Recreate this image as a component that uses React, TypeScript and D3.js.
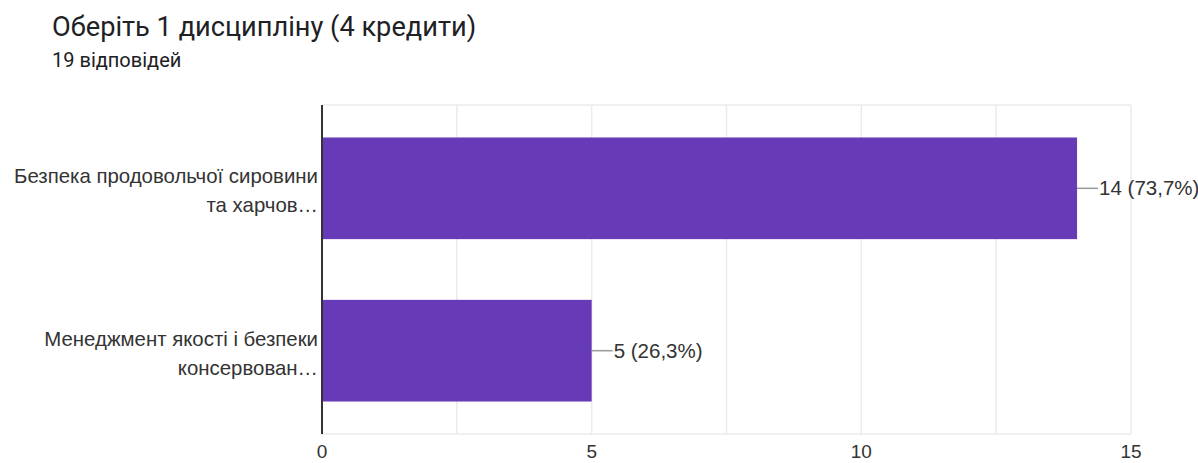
import React from "react";
import * as d3 from "d3";

const categories = [
  ["Безпека продовольчої сировини", "та харчов…"],
  ["Менеджмент якості і безпеки", "консервован…"],
];
const counts = [14, 5];
const percents = ["73,7%", "26,3%"];
const xTicks = [0, 5, 10, 15];
const gridTicks = [2.5, 5, 7.5, 10, 12.5, 15];
const title = "Оберіть 1 дисципліну (4 кредити)";
const subtitle = "19 відповідей";

const W = 1198;
const H = 463;
const left = 322;
const right = 1131;
const top = 105;
const bottom = 434;

export default function App() {
  const x = d3.scaleLinear().domain([0, 15]).range([left, right]);
  const y = d3
    .scaleBand<number>()
    .domain(counts.map((_, i) => i))
    .range([top, bottom])
    .paddingInner(0.374)
    .paddingOuter(0.2);
  const font = "'Liberation Sans', Arial, sans-serif";
  return (
    <svg
      width={W}
      height={H}
      style={{ position: "absolute", left: 0, top: 0, background: "#fff" }}
    >
      <text x={52} y={36} fontFamily="Roboto, 'Open Sans', sans-serif" fontSize={27.2} fill="#202124">
        {title}
      </text>
      <text x={52} y={67} fontFamily="Roboto, 'Open Sans', sans-serif" fontSize={20} fill="#202124">
        {subtitle}
      </text>
      {gridTicks.map((t) => (
        <line key={t} x1={x(t)} x2={x(t)} y1={top} y2={bottom} stroke="#ebebeb" strokeWidth={1.5} />
      ))}
      <line x1={left} x2={right} y1={top} y2={top} stroke="#ebebeb" strokeWidth={1.5} />
      <line x1={left} x2={right} y1={bottom} y2={bottom} stroke="#ebebeb" strokeWidth={1.5} />
      {counts.map((c, i) => {
        const by = y(i)!;
        const bh = y.bandwidth();
        const cy = by + bh / 2;
        return (
          <g key={i}>
            <rect x={x(0)} y={by} width={x(c) - x(0)} height={bh} fill="#673ab7" />
            <line x1={x(c)} x2={x(c) + 21} y1={cy} y2={cy} stroke="#999" strokeWidth={1.5} />
            <text x={x(c) + 22} y={cy + 7} fontFamily={font} fontSize={20.5} fill="#333">
              {`${c} (${percents[i]})`}
            </text>
            {categories[i].map((line, j) => (
              <text
                key={j}
                x={318}
                y={cy - 5 + j * 29}
                textAnchor="end"
                fontFamily={font}
                fontSize={20.4}
                fill="#333"
              >
                {line}
              </text>
            ))}
          </g>
        );
      })}
      <line x1={left} x2={left} y1={top} y2={bottom} stroke="#333" strokeWidth={2} />
      {xTicks.map((t) => (
        <text
          key={t}
          x={x(t)}
          y={458}
          textAnchor="middle"
          fontFamily={font}
          fontSize={19}
          fill="#333"
        >
          {t}
        </text>
      ))}
    </svg>
  );
}
